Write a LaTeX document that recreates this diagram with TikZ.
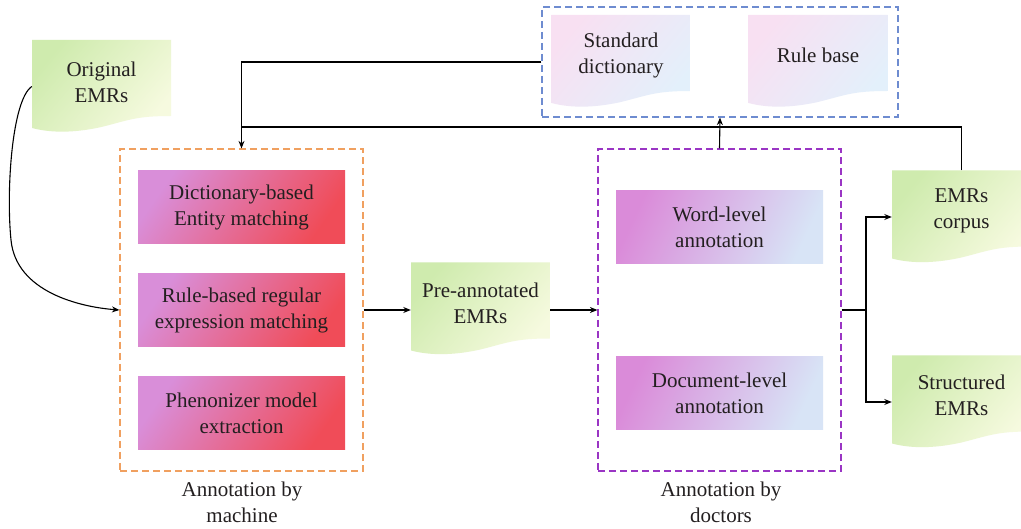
\documentclass[tikz,border=0pt]{standalone}
\usepackage{fontspec}
\setmainfont{Liberation Serif}
\usetikzlibrary{arrows.meta,calc}
\definecolor{txtc}{HTML}{231F20}
\definecolor{g1}{HTML}{CFEBAE}
\definecolor{g2}{HTML}{F6FADF}
\definecolor{m1}{HTML}{D98ED9}
\definecolor{m2}{HTML}{E8619F}
\definecolor{m3}{HTML}{F04C58}
\definecolor{d1}{HTML}{DA8BD9}
\definecolor{d2}{HTML}{E8C6EC}
\definecolor{d3}{HTML}{D8E4F6}
\definecolor{k1}{HTML}{F8E0F2}
\definecolor{k2}{HTML}{E3F0FB}
\definecolor{orangec}{HTML}{F0A060}
\definecolor{purplec}{HTML}{9A35C4}
\definecolor{bluec}{HTML}{6E8CD0}
\begin{document}
\begin{tikzpicture}[x=1pt,y=-1pt,
  every node/.style={font=\fontsize{21}{26}\selectfont, text=txtc, align=center},
  gshade/.style={top color=g1, bottom color=g2, shading angle=50},
  kshade/.style={top color=k1, bottom color=k2, shading angle=50},
  docbox/.style={minimum width=139pt, minimum height=93pt, inner sep=0pt,
    path picture={\shade[#1] let \p1=(path picture bounding box.south west),
      \p2=(path picture bounding box.north east), \n1={\x2-\x1} in
      (\x1,\y2) -- (\x2,\y2) -- (\x2,\y1+17pt)
      .. controls (\x2-0.25*\n1,\y1+17pt) and (\x1+0.7*\n1,\y1+13pt) .. (\x1+0.5*\n1,\y1+6pt)
      .. controls (\x1+0.32*\n1,\y1+0.5pt) and (\x1+0.15*\n1,\y1-0.5pt) .. (\x1,\y1+5pt) -- cycle;}},
  mbox/.style={minimum width=207pt, minimum height=73pt, inner sep=0pt,
    top color=m1, middle color=m2, bottom color=m3, shading angle=55},
  dbox/.style={minimum width=207pt, minimum height=73pt, inner sep=0pt,
    top color=d1, middle color=d2, bottom color=d3, shading angle=65},
  frame/.style={draw=#1, dash pattern=on 7pt off 4pt, line width=1.2pt, inner sep=0pt},
  ln/.style={draw=black, line width=1.1pt},
  arr/.style={ln, -{Stealth[length=7.5pt,width=6pt]}}
]
\clip (0,0) rectangle (1021,529);
\fill[white] (0,0) rectangle (1021,529);

% knowledge base frame
\node[frame=bluec, minimum width=356pt, minimum height=110pt] (kb) at (720,62) {};
\node[docbox=kshade] (dict) at (621,61.5) {};
\node (dict-t) at ([yshift=6pt]dict.center) {Standard\\dictionary};
\node[docbox=kshade] (rule) at (818,61.5) {};
\node (rule-t) at ([yshift=6pt]rule.center) {Rule base};

% original EMRs
\node[docbox=gshade] (orig) at (101.5,86.5) {};
\node (orig-t) at ([yshift=4pt]orig.center) {Original\\EMRs};

% machine frame
\node[frame=orangec, minimum width=243pt, minimum height=322pt] (mach) at (241.5,310) {};
\node[mbox] (mb1) at (241.5,207) {Dictionary-based\\Entity matching};
\node[mbox] (mb2) at (241.5,310.5) {Rule-based regular\\expression matching};
\node[mbox] (mb3) at (241.5,413.5) {Phenonizer model\\extraction};
\node (mlab) at (242,502) {Annotation by\\machine};

% pre-annotated
\node[docbox=gshade] (pre) at (480.5,309) {};
\node (pre-t) at ([yshift=6pt]pre.center) {Pre-annotated\\EMRs};

% doctors frame
\node[frame=purplec, minimum width=243pt, minimum height=322pt] (doc) at (719.5,310) {};
\node[dbox] (db1) at (719.5,227) {Word-level\\annotation};
\node[dbox] (db2) at (719.5,393) {Document-level\\annotation};
\node (dlab) at (721,502) {Annotation by\\doctors};

% outputs
\node[docbox=gshade] (corpus) at (961.5,217) {};
\node (corpus-t) at ([yshift=6pt]corpus.center) {EMRs\\corpus};
\node[docbox=gshade] (struct) at (961.5,402) {};
\node (struct-t) at ([yshift=7pt]struct.center) {Structured\\EMRs};

% connectors
\coordinate (fby) at (0,127);
\coordinate (fb) at (mach.north |- fby);
\coordinate (sp) at (866,310);

\draw[arr] (orig.west) .. controls (12,100) and (6,190) .. (11,240)
  .. controls (16,292) and (80,307) .. (mach.west);
\draw[arr] (mach.east) -- (mach.east -| pre.west);
\draw[arr] (pre.east |- doc.west) -- (doc.west);
\draw[ln] (doc.east) -- (sp);
\draw[arr] (sp) |- (corpus.west);
\draw[arr] (sp) |- (struct.west);
\draw[arr] (doc.north) -- (kb.south);
\draw[ln] (kb.west) -| (fb);
\draw[arr] (corpus.north) |- (fb) -- (mach.north);
\end{tikzpicture}
\end{document}
